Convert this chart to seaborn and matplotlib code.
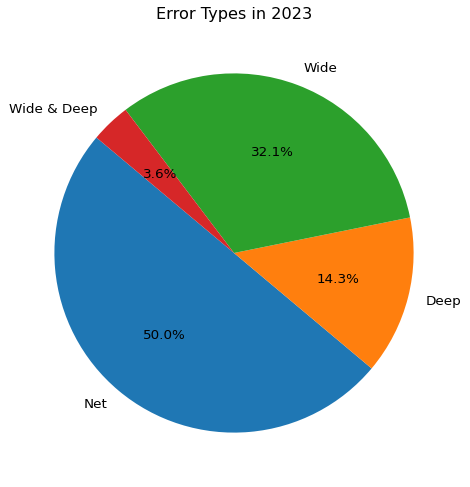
import matplotlib
matplotlib.use("Agg")
import matplotlib.pyplot as plt
import seaborn as sns

# Data
error_types = ["Net", "Deep", "Wide", "Wide & Deep"]
counts = [14, 4, 9, 1]

colors = sns.color_palette("tab10", len(error_types))

fig = plt.figure(figsize=(4.7, 4.87), dpi=100)
ax = fig.add_axes([9.5 / 470, 9.5 / 487, 449 / 470, 449 / 487])
ax.pie(counts, labels=error_types, colors=colors, autopct="%1.1f%%", startangle=140,
       textprops={"fontsize": 9.7})
ax.set_title("Error Types in 2023", fontsize=11.6, pad=7)

plt.savefig("out.png", dpi=100)
